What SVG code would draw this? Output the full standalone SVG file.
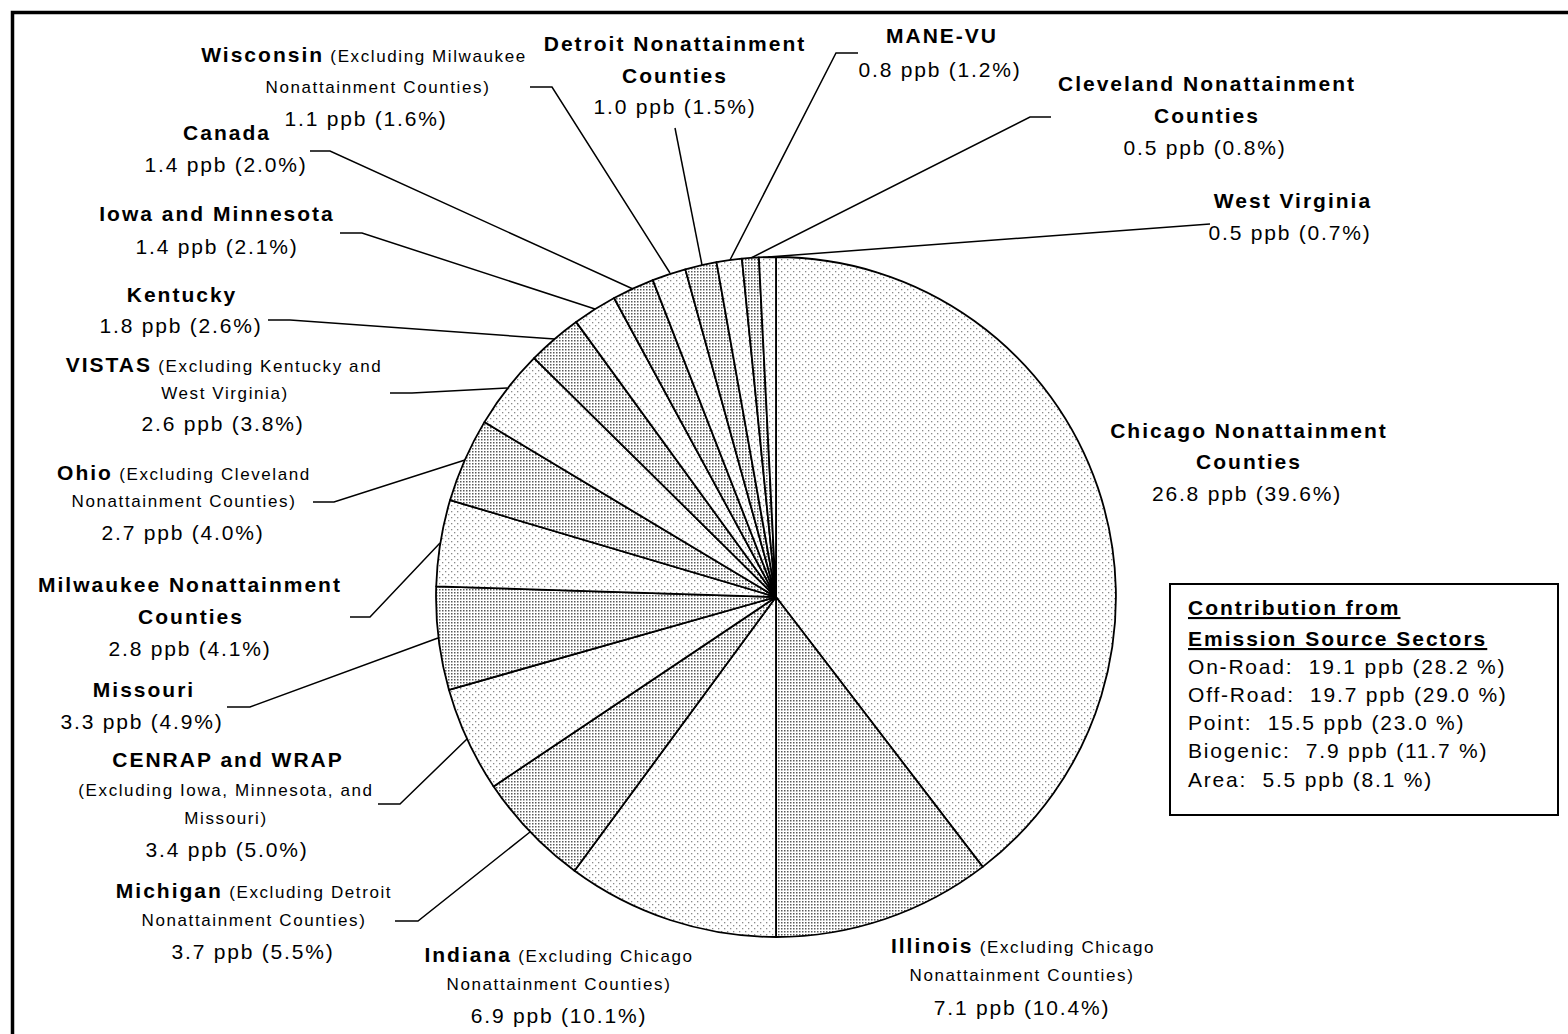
<svg xmlns="http://www.w3.org/2000/svg" width="1568" height="1034" viewBox="0 0 1568 1034">
<style>
text{font-family:"Liberation Sans",Arial,sans-serif;fill:#000;text-anchor:middle}
.b{font-weight:bold;font-size:21px;letter-spacing:2px}
.r{font-size:21px;letter-spacing:1.8px}
.s{font-size:17px;letter-spacing:1.6px}
.lg{text-anchor:start;white-space:pre}
.sl{stroke:#000;stroke-width:1.8;stroke-linejoin:round}
.sp{fill:url(#sparse)}
.dn{fill:url(#dense)}
#connectors path{fill:none;stroke:#000;stroke-width:1.5}
</style>
<defs>
<pattern id="sparse" width="6" height="6" patternUnits="userSpaceOnUse">
<rect width="6" height="6" fill="#fff"/>
<rect x="1" y="1" width="1.3" height="1.3" fill="#8a8a8a"/>
<rect x="4" y="4" width="1.3" height="1.3" fill="#8a8a8a"/>
</pattern>
<pattern id="dense" width="3" height="3" patternUnits="userSpaceOnUse">
<rect width="3" height="3" fill="#fff"/>
<rect x="1" y="1" width="1.5" height="1.5" fill="#5a5a5a"/>
</pattern>
</defs>
<rect width="1568" height="1034" fill="#fff"/>
<path d="M12.5,1034 V12.5 H1568" fill="none" stroke="#000" stroke-width="3.5"/>

<g id="pie">
<g id="slice-chicago"><path class="sl sp" d="M776,597 L776,257 A340,340 0 0 1 982.7,866.9 Z"/></g>
<g id="slice-illinois"><path class="sl dn" d="M776,597 L982.7,866.9 A340,340 0 0 1 776,937 Z"/></g>
<g id="slice-indiana"><path class="sl sp" d="M776,597 L776,937 A340,340 0 0 1 574.5,870.8 Z"/></g>
<g id="slice-michigan"><path class="sl dn" d="M776,597 L574.5,870.8 A340,340 0 0 1 493.6,786.4 Z"/></g>
<g id="slice-cenrap"><path class="sl sp" d="M776,597 L493.6,786.4 A340,340 0 0 1 448.9,689.8 Z"/></g>
<g id="slice-missouri"><path class="sl dn" d="M776,597 L448.9,689.8 A340,340 0 0 1 436.2,586.3 Z"/></g>
<g id="slice-milwaukee"><path class="sl sp" d="M776,597 L436.2,586.3 A340,340 0 0 1 450.1,500.1 Z"/></g>
<g id="slice-ohio"><path class="sl dn" d="M776,597 L450.1,500.1 A340,340 0 0 1 484.4,422.1 Z"/></g>
<g id="slice-vistas"><path class="sl sp" d="M776,597 L484.4,422.1 A340,340 0 0 1 534.1,358.1 Z"/></g>
<g id="slice-kentucky"><path class="sl dn" d="M776,597 L534.1,358.1 A340,340 0 0 1 576.1,321.9 Z"/></g>
<g id="slice-iowa"><path class="sl sp" d="M776,597 L576.1,321.9 A340,340 0 0 1 614.1,298 Z"/></g>
<g id="slice-canada"><path class="sl dn" d="M776,597 L614.1,298 A340,340 0 0 1 652.8,280.1 Z"/></g>
<g id="slice-wisconsin"><path class="sl sp" d="M776,597 L652.8,280.1 A340,340 0 0 1 685.3,269.3 Z"/></g>
<g id="slice-detroit"><path class="sl dn" d="M776,597 L685.3,269.3 A340,340 0 0 1 716.5,262.2 Z"/></g>
<g id="slice-manevu"><path class="sl sp" d="M776,597 L716.5,262.2 A340,340 0 0 1 741.9,258.7 Z"/></g>
<g id="slice-cleveland"><path class="sl dn" d="M776,597 L741.9,258.7 A340,340 0 0 1 758.9,257.4 Z"/></g>
<g id="slice-wv"><path class="sl sp" d="M776,597 L758.9,257.4 A340,340 0 0 1 776,257 Z"/></g>
</g>

<g id="connectors">
<path d="M530,87 H552 L670,273"/>
<path d="M310,151 H330 L633,289"/>
<path d="M340,233 H362 L595,309"/>
<path d="M268,320 H290 L555,339"/>
<path d="M390,393 H412 L507,388"/>
<path d="M313,502 H334 L465,460"/>
<path d="M350,617 H370 L440,543"/>
<path d="M227,707 H250 L438,638"/>
<path d="M378,804 H400 L467,739"/>
<path d="M395,921 H418 L530,832"/>
<path d="M675,128 L702,265"/>
<path d="M858,53 H836 L730,260"/>
<path d="M1051,117 H1030 L751,258"/>
<path d="M1210,224 L768,257"/>
</g>

<g id="label-wisconsin">
<text x="364" y="62"><tspan class="b">Wisconsin</tspan><tspan class="s"> (Excluding Milwaukee</tspan></text>
<text class="s" x="378" y="93">Nonattainment Counties)</text>
<text class="r" x="366" y="126">1.1 ppb (1.6%)</text>
</g>
<g id="label-canada">
<text class="b" x="227" y="140">Canada</text>
<text class="r" x="226" y="172">1.4 ppb (2.0%)</text>
</g>
<g id="label-iowa">
<text class="b" x="217" y="221">Iowa and Minnesota</text>
<text class="r" x="217" y="254">1.4 ppb (2.1%)</text>
</g>
<g id="label-kentucky">
<text class="b" x="182" y="302">Kentucky</text>
<text class="r" x="181" y="333">1.8 ppb (2.6%)</text>
</g>
<g id="label-vistas">
<text x="224" y="372"><tspan class="b">VISTAS</tspan><tspan class="s"> (Excluding Kentucky and</tspan></text>
<text class="s" x="225" y="399">West Virginia)</text>
<text class="r" x="223" y="431">2.6 ppb (3.8%)</text>
</g>
<g id="label-ohio">
<text x="184" y="480"><tspan class="b">Ohio</tspan><tspan class="s"> (Excluding Cleveland</tspan></text>
<text class="s" x="184" y="507">Nonattainment Counties)</text>
<text class="r" x="183" y="540">2.7 ppb (4.0%)</text>
</g>
<g id="label-milwaukee">
<text class="b" x="190" y="592">Milwaukee Nonattainment</text>
<text class="b" x="191" y="624">Counties</text>
<text class="r" x="190" y="656">2.8 ppb (4.1%)</text>
</g>
<g id="label-missouri">
<text class="b" x="144" y="697">Missouri</text>
<text class="r" x="142" y="729">3.3 ppb (4.9%)</text>
</g>
<g id="label-cenrap">
<text class="b" x="228" y="767">CENRAP and WRAP</text>
<text class="s" x="226" y="796">(Excluding Iowa, Minnesota, and</text>
<text class="s" x="226" y="824">Missouri)</text>
<text class="r" x="227" y="857">3.4 ppb (5.0%)</text>
</g>
<g id="label-michigan">
<text x="254" y="898"><tspan class="b">Michigan</tspan><tspan class="s"> (Excluding Detroit</tspan></text>
<text class="s" x="254" y="926">Nonattainment Counties)</text>
<text class="r" x="253" y="959">3.7 ppb (5.5%)</text>
</g>
<g id="label-indiana">
<text x="559" y="962"><tspan class="b">Indiana</tspan><tspan class="s"> (Excluding Chicago</tspan></text>
<text class="s" x="559" y="990">Nonattainment Counties)</text>
<text class="r" x="559" y="1023">6.9 ppb (10.1%)</text>
</g>
<g id="label-illinois">
<text x="1023" y="953"><tspan class="b">Illinois</tspan><tspan class="s"> (Excluding Chicago</tspan></text>
<text class="s" x="1022" y="981">Nonattainment Counties)</text>
<text class="r" x="1022" y="1015">7.1 ppb (10.4%)</text>
</g>
<g id="label-detroit">
<text class="b" x="675" y="51">Detroit Nonattainment</text>
<text class="b" x="675" y="83">Counties</text>
<text class="r" x="675" y="114">1.0 ppb (1.5%)</text>
</g>
<g id="label-manevu">
<text class="b" x="942" y="43">MANE-VU</text>
<text class="r" x="940" y="77">0.8 ppb (1.2%)</text>
</g>
<g id="label-cleveland">
<text class="b" x="1207" y="91">Cleveland Nonattainment</text>
<text class="b" x="1207" y="123">Counties</text>
<text class="r" x="1205" y="155">0.5 ppb (0.8%)</text>
</g>
<g id="label-wv">
<text class="b" x="1293" y="208">West Virginia</text>
<text class="r" x="1290" y="240">0.5 ppb (0.7%)</text>
</g>
<g id="label-chicago">
<text class="b" x="1249" y="438">Chicago Nonattainment</text>
<text class="b" x="1249" y="469">Counties</text>
<text class="r" x="1247" y="501">26.8 ppb (39.6%)</text>
</g>

<g id="legend">
<rect x="1170" y="584" width="388" height="231" fill="#fff" stroke="#000" stroke-width="2"/>
<text class="b lg" x="1188" y="615" text-decoration="underline">Contribution from</text>
<text class="b lg" x="1188" y="646" text-decoration="underline">Emission Source Sectors</text>
<text class="r lg" x="1188" y="674">On-Road:  19.1 ppb (28.2 %)</text>
<text class="r lg" x="1188" y="702">Off-Road:  19.7 ppb (29.0 %)</text>
<text class="r lg" x="1188" y="730">Point:  15.5 ppb (23.0 %)</text>
<text class="r lg" x="1188" y="758">Biogenic:  7.9 ppb (11.7 %)</text>
<text class="r lg" x="1188" y="787">Area:  5.5 ppb (8.1 %)</text>
</g>
</svg>
